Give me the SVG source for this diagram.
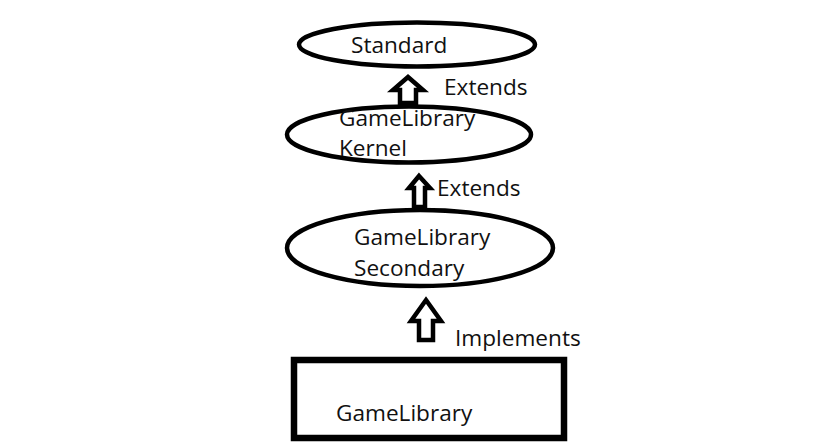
<svg xmlns="http://www.w3.org/2000/svg" width="819" height="443" viewBox="0 0 819 443">
<style>
.shape{fill:#fff;stroke:#000;stroke-width:4.5}
.box{fill:#fff;stroke:#000;stroke-width:6.5}
.arrow{fill:#fff;stroke:#000;stroke-width:4.5;stroke-linejoin:miter}
text{font-family:"Open Sans","Liberation Sans",sans-serif;font-size:22.6px;fill:#111}
</style>
<rect width="819" height="443" fill="#fff"/>
<g id="connectors">
<path class="arrow" d="M408,77 L423,90 L416,90 L416,103 L400,103 L400,90 L393,90 Z"/>
<path class="arrow" d="M419,176 L430,188 L425,188 L425,207 L414,207 L414,188 L409,188 Z"/>
<path class="arrow" d="M426,300 L441,321 L433,321 L433,340 L419,340 L419,321 L411,321 Z"/>
<text x="444" y="95">Extends</text>
<text x="437" y="196">Extends</text>
<text x="455" y="346">Implements</text>
</g>
<g id="standard">
<ellipse class="shape" cx="417" cy="44.5" rx="118" ry="22"/>
<text x="351" y="53">Standard</text>
</g>
<g id="kernel">
<ellipse class="shape" cx="409" cy="134.5" rx="122" ry="28"/>
<text x="339" y="126">GameLibrary</text>
<text x="339" y="156">Kernel</text>
</g>
<g id="secondary">
<ellipse class="shape" cx="420" cy="248" rx="133" ry="38"/>
<text x="354" y="245">GameLibrary</text>
<text x="354" y="276">Secondary</text>
</g>
<g id="gamelibrary">
<rect class="box" x="294" y="360" width="270" height="78"/>
<text x="336" y="421">GameLibrary</text>
</g>
</svg>
